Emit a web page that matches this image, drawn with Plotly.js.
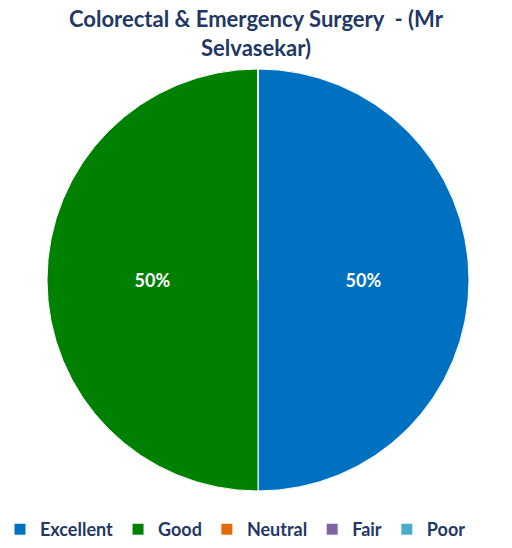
<!DOCTYPE html>
<html><head><meta charset="utf-8">
<script src="https://cdn.plot.ly/plotly-3.0.1.min.js"></script>
<style>html,body{margin:0;padding:0;background:#fff}</style>
</head><body><div id="chart" style="width:512px;height:548px"></div>
<script>
const labels = ["Excellent", "Good", "Neutral", "Fair", "Poor"];
const values = [1, 1, 0, 0, 0];
const colors = ["#0070C0", "#008000", "#E36C0A", "#8064A2", "#4BACC6"];

const W = 512, H = 548, cx = 258, cy = 280, r = 211;
const trace = {
  type: "pie",
  labels: labels,
  values: values,
  sort: false,
  direction: "clockwise",
  rotation: 0,
  marker: {colors: colors, line: {color: "#ffffff", width: 1}},
  textinfo: "percent",
  texttemplate: "%{percent:.0%}",
  textposition: "inside",
  insidetextfont: {color: "#ffffff", size: 18, family: "Lato, sans-serif", weight: "bold"},
  hoverinfo: "label+percent",
  showlegend: true,
  domain: {x: [(cx - r) / W, (cx + r) / W], y: [1 - (cy + r) / H, 1 - (cy - r) / H]}
};
const layout = {
  width: W, height: H,
  margin: {l: 0, r: 0, t: 0, b: 0},
  paper_bgcolor: "#ffffff",
  title: {
    text: "Colorectal & Emergency Surgery  - (Mr<br>Selvasekar)",
    font: {family: "Lato, sans-serif", size: 22, color: "#1F3864", weight: "bold"},
    x: 0.5, xanchor: "center", y: 1 - 27 / H, yanchor: "middle"
  },
  legend: {
    orientation: "h", x: 0, xanchor: "left", y: 0, yanchor: "bottom",
    font: {family: "Lato, sans-serif", size: 18, color: "#1F3864", weight: "bold"},
    itemwidth: 30
  }
};
Plotly.newPlot("chart", [trace], layout, {displayModeBar: false});
</script></body></html>
